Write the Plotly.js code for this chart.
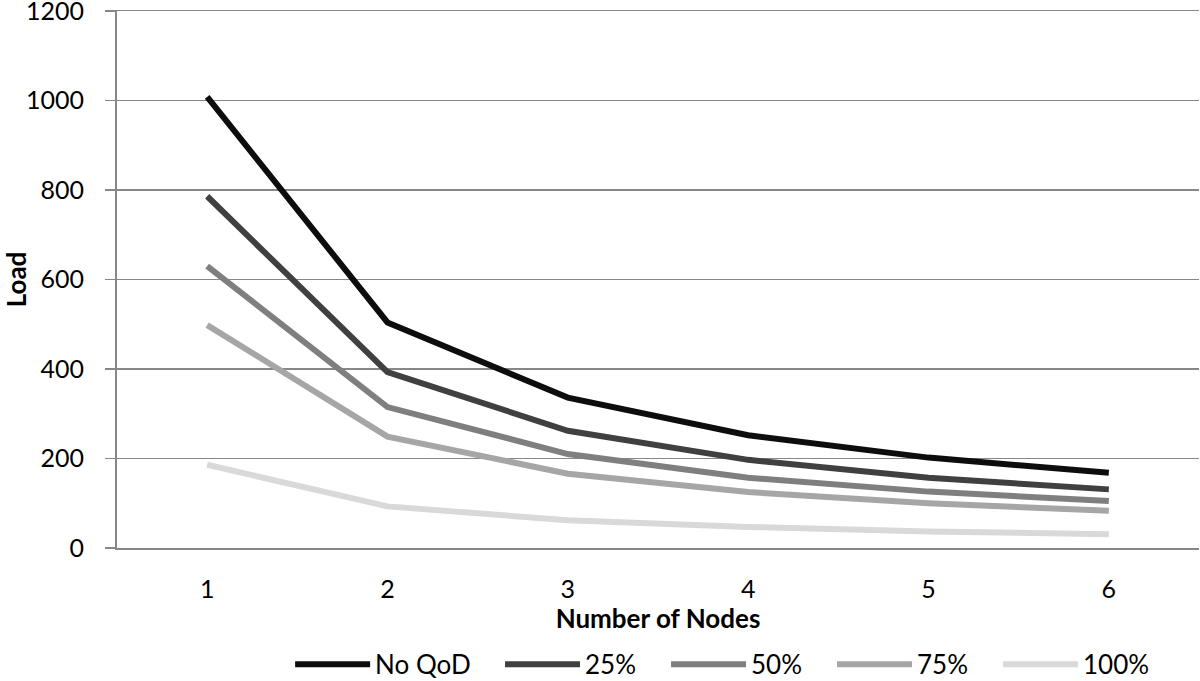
<!DOCTYPE html>
<html>
<head>
<meta charset="utf-8">
<script src="https://cdn.plot.ly/plotly-3.0.1.min.js"></script>
<style>html,body{margin:0;padding:0;background:#fff;}#chart{width:1200px;height:681px;}</style>
</head>
<body>
<div id="chart"></div>
<script>
var nodes = ['1', '2', '3', '4', '5', '6'];
var seriesNames = ['No QoD', '25%', '50%', '75%', '100%'];
var noQoD = [1008, 504, 336, 252, 202, 168];
var q25 = [786, 393, 262, 197, 157, 131];
var q50 = [630, 315, 210, 157, 126, 105];
var q75 = [498, 249, 166, 125, 100, 83];
var q100 = [186, 93, 62, 47, 37, 31];
var yTicks = [0, 200, 400, 600, 800, 1000, 1200];

var colors = ['#0d0d0d', '#404040', '#7f7f7f', '#a6a6a6', '#d9d9d9'];
var values = [noQoD, q25, q50, q75, q100];
var FONT = 'Lato, "Open Sans", sans-serif';

var traces = values.map(function (v, i) {
  return {
    x: nodes, y: v, name: seriesNames[i], type: 'scatter', mode: 'lines',
    line: {color: colors[i], width: 6},
    legend: i === 0 ? 'legend' : 'legend2'
  };
});

var legendFont = {family: FONT, size: 26, color: '#000'};
var layout = {
  width: 1200, height: 681,
  margin: {l: 117, r: 1, t: 11, b: 133, autoexpand: false},
  paper_bgcolor: '#fff', plot_bgcolor: '#fff',
  font: {family: FONT, size: 26, color: '#000'},
  showlegend: true,
  legend: {orientation: 'h', x: 0.16, xanchor: 'left', y: -0.173, yanchor: 'top',
           font: legendFont, itemwidth: 75, tracegroupgap: 0, maxheight: 200},
  legend2: {orientation: 'h', x: 0.354, xanchor: 'left', y: -0.173, yanchor: 'top',
           font: legendFont, itemwidth: 75, tracegroupgap: 0, entrywidth: 76, maxheight: 200},
  xaxis: {
    type: 'category', range: [-0.5, 5.5], tickvals: nodes, ticktext: nodes,
    showgrid: false, showline: true, mirror: true, linecolor: '#878787', linewidth: 1.5,
    zeroline: false, ticks: '',
    tickfont: {family: FONT, size: 25}, ticklabelstandoff: 18,
    title: {text: '<b>Number of Nodes</b>', font: {family: FONT, size: 26}, standoff: 0}
  },
  yaxis: {
    range: [0, 1200], tickvals: yTicks, ticktext: yTicks.map(String),
    showgrid: true, gridcolor: '#878787', gridwidth: 1.5,
    showline: true, linecolor: '#878787', linewidth: 2,
    zeroline: true, zerolinecolor: '#878787', zerolinewidth: 2,
    ticks: 'outside', ticklen: 10, tickcolor: '#878787', tickwidth: 1.5,
    tickfont: {family: FONT, size: 25}, ticklabelstandoff: 16, ticklabeloverflow: 'allow',
    title: {text: '<b>Load</b>', font: {family: FONT, size: 26}, standoff: 6}
  }
};

Plotly.newPlot('chart', traces, layout, {displayModeBar: false, staticPlot: true});
</script>
</body>
</html>
